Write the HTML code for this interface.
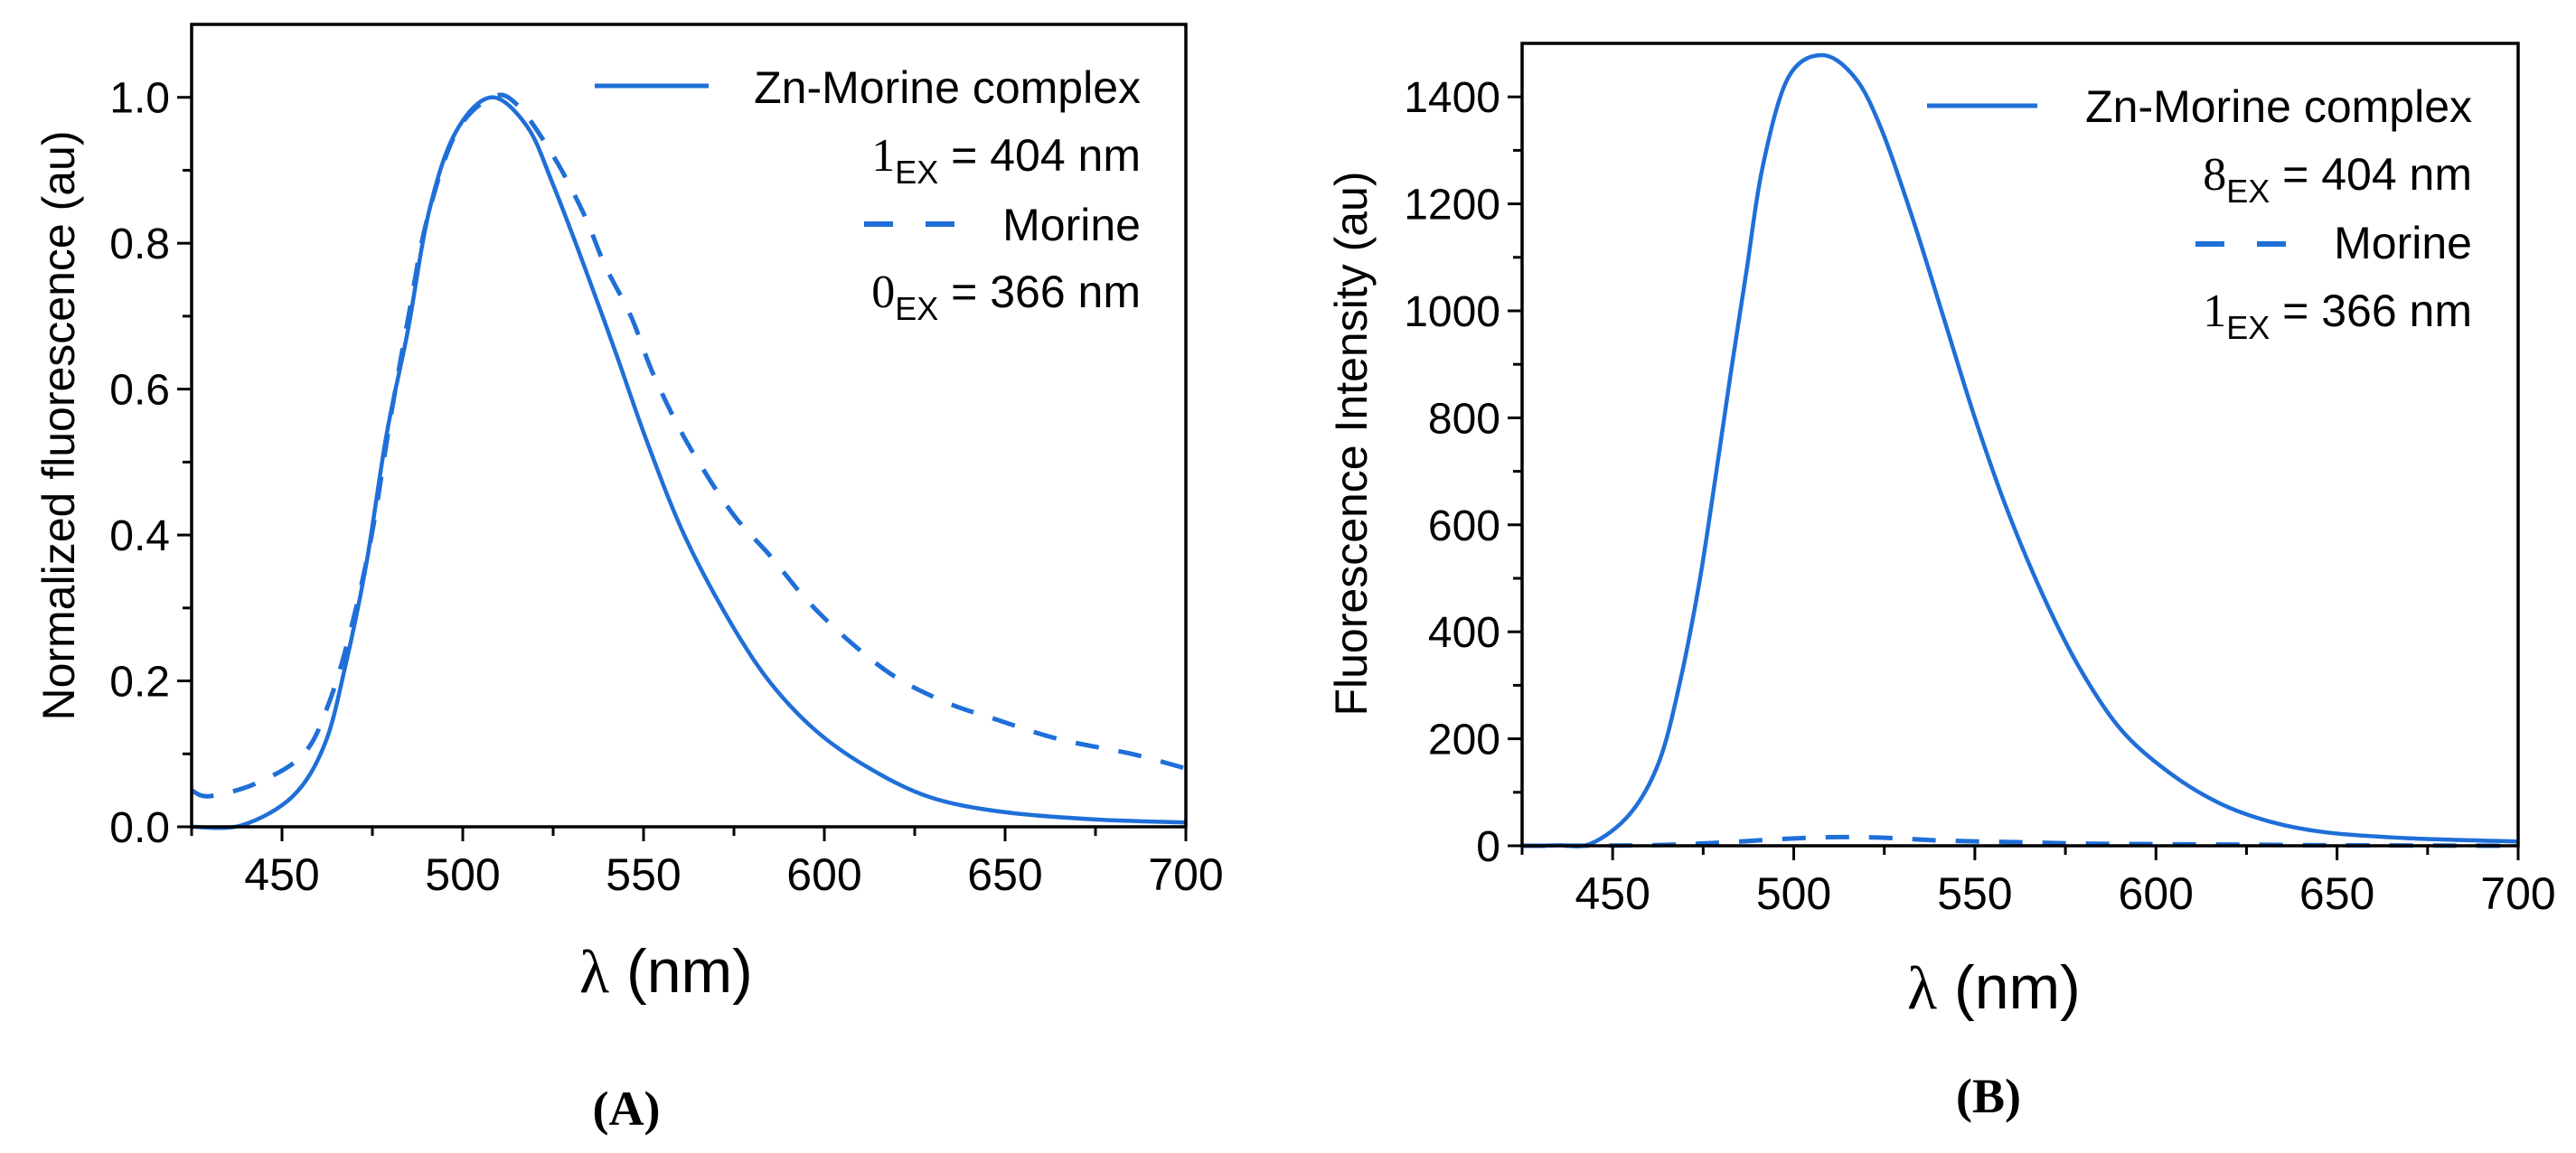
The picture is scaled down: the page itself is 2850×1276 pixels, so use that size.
<!DOCTYPE html>
<html><head><meta charset="utf-8"><style>
html,body{margin:0;padding:0;background:#fff;}
svg{display:block;font-family:"Liberation Sans",sans-serif;}
</style></head><body>
<svg id="fig" width="2850" height="1276" viewBox="0 0 2850 1276" xmlns="http://www.w3.org/2000/svg">
<g id="chartA"></g>
<g id="chartB"></g>
</svg>
<script>
// Chart A data (normalized)
const aZnX = [425,438.8,453,461.8,467.5,473.3,479,484.8,490.5,497.8,507.8,517.8,525,533.5,542.3,550.8,560.8,572.3,583.9,596.9,611.2,628.4,648.4,675,700];
const aZnY = [0,0.002,0.042,0.113,0.22,0.36,0.54,0.68,0.84,0.95,1.0,0.96,0.88,0.77,0.65,0.53,0.405,0.295,0.205,0.135,0.084,0.042,0.021,0.01,0.006];
const aMoX = [425,430,443,456,463,469,474.8,480,485,490,498,508,515,525,533.5,539.3,546.5,552.3,559.5,566.5,575.3,585.3,595.3,606.8,619.8,634,647,665,685,700];
const aMoY = [0.05,0.042,0.06,0.10,0.17,0.27,0.40,0.56,0.70,0.83,0.95,1.0,0.99,0.92,0.84,0.77,0.70,0.625,0.55,0.49,0.425,0.37,0.31,0.255,0.205,0.17,0.148,0.12,0.10,0.08];
const aXTicks = [450,500,550,600,650,700];
const aYTicks = [0,0.2,0.4,0.6,0.8,1.0];
const aYLabels = ["0.0","0.2","0.4","0.6","0.8","1.0"];
// Chart B data (intensity)
const bZnX = [425,435,444,454.7,462.7,468.4,474,478.4,482.6,487,491.4,498.4,507.8,517,524.3,532.8,541.5,550,558.8,568.7,578.7,590,603,617.4,631.6,647,670,700];
const bZnY = [0,1,4,59,155,300,495,689,883,1077,1269,1435,1478,1435,1338,1173,985,800,630,470,335,220,140,80,45,25,14,8];
const bMoX = [425,460,480,495,510,525,540,560,580,600,650,700];
const bMoY = [0,1,6,12,16,15,10,7,4,3,1,0];
const bXTicks = [450,500,550,600,650,700];
const bYTicks = [0,200,400,600,800,1000,1200,1400];
const bYLabels = ["0","200","400","600","800","1000","1200","1400"];

const NS="http://www.w3.org/2000/svg";
function mk(parent,tag,attrs,text){const e=document.createElementNS(NS,tag);for(const k in attrs)e.setAttribute(k,attrs[k]);if(text!==undefined)e.textContent=text;parent.appendChild(e);return e;}
function smoothPath(pts){
  let d="M"+pts[0][0].toFixed(1)+","+pts[0][1].toFixed(1);
  for(let i=0;i<pts.length-1;i++){
    const p0=pts[Math.max(0,i-1)],p1=pts[i],p2=pts[i+1],p3=pts[Math.min(pts.length-1,i+2)];
    const c1x=p1[0]+(p2[0]-p0[0])/6,c1y=p1[1]+(p2[1]-p0[1])/6;
    const c2x=p2[0]-(p3[0]-p1[0])/6,c2y=p2[1]-(p3[1]-p1[1])/6;
    d+=" C"+c1x.toFixed(1)+","+c1y.toFixed(1)+" "+c2x.toFixed(1)+","+c2y.toFixed(1)+" "+p2[0].toFixed(1)+","+p2[1].toFixed(1);
  }
  return d;
}
function drawChart(g,cfg){
  const sx=v=>cfg.x0+(v-cfg.xmin)/(cfg.xmax-cfg.xmin)*(cfg.x1-cfg.x0);
  const sy=v=>cfg.y0-(v-cfg.ymin)/(cfg.ymax-cfg.ymin)*(cfg.y0-cfg.y1);
  const blue="#1f6fd8";
  const p1=cfg.znX.map((x,i)=>[sx(x),sy(cfg.znY[i])]);
  const zn=mk(g,"path",{d:smoothPath(p1),fill:"none",stroke:blue,"stroke-width":4.5,"stroke-linejoin":"round"});
  
  
  const p2=cfg.moX.map((x,i)=>[sx(x),sy(cfg.moY[i])]);
  const mo=mk(g,"path",{d:smoothPath(p2),fill:"none",stroke:blue,"stroke-width":5,"stroke-dasharray":"26,22","stroke-linejoin":"round"});
  
  
  const fr=mk(g,"rect",{x:cfg.x0,y:cfg.y1,width:cfg.x1-cfg.x0,height:cfg.y0-cfg.y1,fill:"none",stroke:"#000","stroke-width":3.5});
  
  
  for(let v=cfg.xmin;v<=cfg.xmax;v+=25){
    const major=cfg.xTicks.includes(v);
    mk(g,"line",{x1:sx(v),x2:sx(v),y1:cfg.y0,y2:cfg.y0+(major?16:10),stroke:"#000","stroke-width":3});
  }
  cfg.xTicks.forEach(v=>{
    const t=mk(g,"text",{x:sx(v),y:cfg.y0+70,"font-size":50,"text-anchor":"middle",fill:"#000"},String(v));
    
    
  });
  for(let i=0;i<cfg.yTicks.length;i++){
    const v=cfg.yTicks[i];
    mk(g,"line",{x1:cfg.x0,x2:cfg.x0-16,y1:sy(v),y2:sy(v),stroke:"#000","stroke-width":3});
    if(i<cfg.yTicks.length-1){const m=(v+cfg.yTicks[i+1])/2;mk(g,"line",{x1:cfg.x0,x2:cfg.x0-10,y1:sy(m),y2:sy(m),stroke:"#000","stroke-width":3});}
    const t=mk(g,"text",{x:cfg.x0-24,y:sy(v)+17,"font-size":48,"text-anchor":"end",fill:"#000"},cfg.yLabels[i]);
    
    
  }
}
function legend(g,L){
  const l1=mk(g,"line",{x1:L.lx1,x2:L.lx2,y1:L.ly1,y2:L.ly1,stroke:"#1f6fd8","stroke-width":5});
  
  
  const l2=mk(g,"line",{x1:L.dx1,x2:L.dx2,y1:L.dy,y2:L.dy,stroke:"#1f6fd8","stroke-width":6,"stroke-dasharray":"32,36"});
  
  
}
const gA=document.getElementById("chartA"), gB=document.getElementById("chartB");
drawChart(gA,{x0:212,x1:1312,y0:915,y1:27,xmin:425,xmax:700,ymin:0,ymax:1.1,znX:aZnX,znY:aZnY,moX:aMoX,moY:aMoY,xTicks:aXTicks,yTicks:aYTicks,yLabels:aYLabels});
drawChart(gB,{x0:1684,x1:2786,y0:936,y1:48,xmin:425,xmax:700,ymin:0,ymax:1500,znX:bZnX,znY:bZnY,moX:bMoX,moY:bMoY,xTicks:bXTicks,yTicks:bYTicks,yLabels:bYLabels});
legend(gA,{lx1:658,lx2:784,ly1:95,dx1:956,dx2:1060,dy:248});
legend(gB,{lx1:2132,lx2:2254,ly1:117,dx1:2429,dx2:2535,dy:270});
(function(){
const svg=document.getElementById("fig");
svg.insertAdjacentHTML("beforeend",`
<g font-size="50" fill="#000" text-anchor="end">
 <text x="1262" y="114">Zn-Morine complex</text>
 <text x="1262" y="189"><tspan font-family="Liberation Serif" font-size="52">1</tspan><tspan font-size="36" dy="14">EX</tspan><tspan dy="-14"> = 404 nm</tspan></text>
 <text x="1262" y="266">Morine</text>
 <text x="1262" y="340"><tspan font-family="Liberation Serif" font-size="52">0</tspan><tspan font-size="36" dy="14">EX</tspan><tspan dy="-14"> = 366 nm</tspan></text>
</g>
<g font-size="50" fill="#000" text-anchor="end">
 <text x="2735" y="135">Zn-Morine complex</text>
 <text x="2735" y="210"><tspan font-family="Liberation Serif" font-size="52">8</tspan><tspan font-size="36" dy="14">EX</tspan><tspan dy="-14"> = 404 nm</tspan></text>
 <text x="2735" y="286">Morine</text>
 <text x="2735" y="361"><tspan font-family="Liberation Serif" font-size="52">1</tspan><tspan font-size="36" dy="14">EX</tspan><tspan dy="-14"> = 366 nm</tspan></text>
</g>
<text x="82" y="471" font-size="50" text-anchor="middle" transform="rotate(-90 82 471)">Normalized fluorescence (au)</text>
<text x="1512" y="491" font-size="50" text-anchor="middle" transform="rotate(-90 1512 491)">Fluorescence Intensity (au)</text>
<text x="737" y="1098" font-size="68" text-anchor="middle"><tspan font-family="Liberation Serif">λ</tspan> (nm)</text>
<text x="2206" y="1116" font-size="68" text-anchor="middle"><tspan font-family="Liberation Serif">λ</tspan> (nm)</text>
<text x="693" y="1245" font-size="54" font-weight="bold" font-family="Liberation Serif" text-anchor="middle">(A)</text>
<text x="2200" y="1231" font-size="54" font-weight="bold" font-family="Liberation Serif" text-anchor="middle">(B)</text>
`);
})();
</script>
</body></html>
